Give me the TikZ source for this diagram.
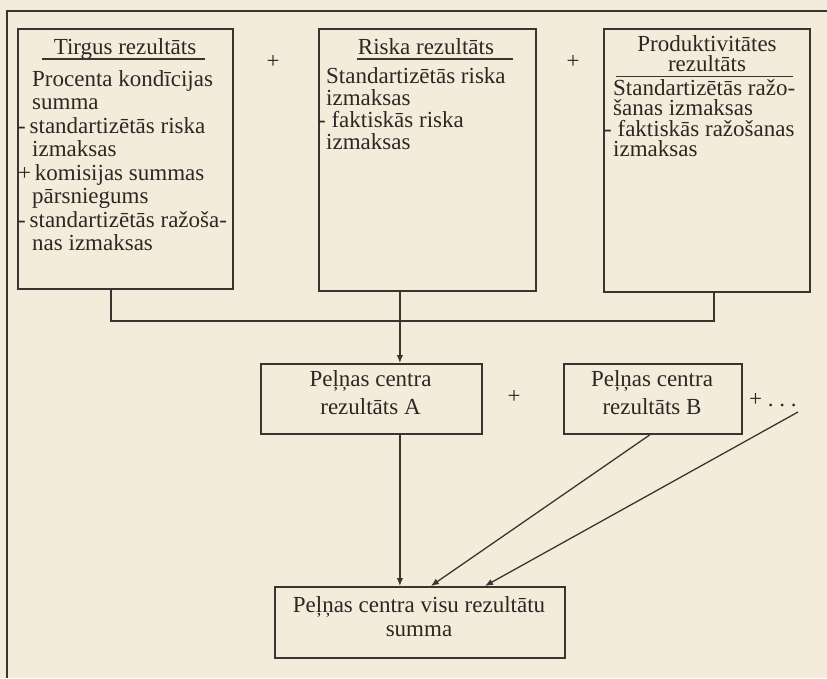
\documentclass[tikz,border=0pt]{standalone}
\usepackage{fontspec}
\setmainfont{Liberation Serif}
\usetikzlibrary{arrows.meta,calc}
\definecolor{paper}{HTML}{F4ECDB}
\definecolor{ink}{HTML}{3A3531}
\definecolor{print}{HTML}{2C2724}
% zero-width strut that fixes the top of a text block 17pt above its first baseline
\newcommand\firstln{\rule{0pt}{17pt}}

\begin{document}
\begin{tikzpicture}[x=1pt,y=-1pt,
  box/.style={draw=ink, line width=1.8pt, rectangle, inner sep=0pt, anchor=north west},
  txt/.style={text=print, inner sep=0pt, font=\fontsize{23pt}{23.5pt}\selectfont},
  body/.style={txt, align=left, anchor=north west},
  ctext/.style={txt, align=center, anchor=north},
  rule/.style={draw=ink, line width=1.3pt},
  frame/.style={draw=ink, line width=1.3pt},
  link/.style={draw=ink, line width=1.4pt},
  conn/.style={draw=ink, line width=1.3pt, -{Latex[length=8pt,width=6.5pt]}},
]
\useasboundingbox (0,0) rectangle (827,678);
\fill[paper] (0,0) rectangle (827,678);

% outer frame
\draw[frame] (827,11) -- (7,11) -- (7,678);

% three partial results
\node[box, minimum width=215pt, minimum height=260pt] (L) at (17,28) {};
\node[box, minimum width=217pt, minimum height=262pt] (M) at (318,28) {};
\node[box, minimum width=206pt, minimum height=263pt] (R) at (603,28) {};

% headings with their rules
\node[txt, anchor=base] (Lt) at (125,54) {Tirgus rezultāts};
\draw[rule] (42,59) -- (205,59);
\node[txt, anchor=base] (Mt) at (426,54) {Riska rezultāts};
\draw[rule] (357,59) -- (513,59);
\node[ctext, font=\fontsize{23pt}{20.5pt}\selectfont] (Rt) at (707,34) {\firstln Produktivitātes\\rezultāts};
\draw[rule] (616,76.5) -- (793,76.5);

% contents
\node[body, font=\fontsize{23pt}{23.5pt}\selectfont] (Lb) at (32,69)
  {\firstln Procenta kondīcijas\\
   summa\\
   \hspace*{-14pt}-\,standartizētās riska\\
   izmaksas\\
   \hspace*{-14pt}+\,komisijas summas\\
   pārsniegums\\
   \hspace*{-14pt}-\,standartizētās ražoša-\\
   nas izmaksas};
\node[body, font=\fontsize{23pt}{22pt}\selectfont] (Mb) at (326,66)
  {\firstln Standartizētās riska\\
   izmaksas\\
   \hspace*{-8pt}- faktiskās riska\\
   izmaksas};
\node[body, font=\fontsize{23pt}{20.5pt}\selectfont] (Rb) at (613,78)
  {\firstln Standartizētās ražo-\\
   šanas izmaksas\\
   \hspace*{-9pt}- faktiskās ražošanas\\
   izmaksas};

% plus signs between the partial results
\node[txt] (p1) at (273,62) {+};
\node[txt] (p2) at (573,62) {+};

% profit centre results
\node[box, minimum width=221pt, minimum height=70pt] (A) at (260,363) {};
\node[ctext, font=\fontsize{23pt}{28pt}\selectfont] (At) at (370.5,369) {\firstln Peļņas centra\\rezultāts A};
\node[txt] (p3) at (514,397) {+};
\node[box, minimum width=178pt, minimum height=70pt] (B) at (563,363) {};
\node[ctext, font=\fontsize{23pt}{28pt}\selectfont] (Bt) at (652,369) {\firstln Peļņas centra\\rezultāts B};
\node[txt, anchor=base west] (more) at (749,406) {+ .\ .\ .};
\coordinate (moreend) at (798,412);

% total
\node[box, minimum width=290pt, minimum height=71pt] (S) at (274,586) {};
\node[ctext, font=\fontsize{23pt}{24.5pt}\selectfont] (St) at (419,595) {\firstln Peļņas centra visu rezultātu\\summa};

% bracket joining the three partial results
\coordinate (bar) at (400,321);
\draw[link] ([xshift=-14.5pt]L.south) |- (bar) -| ([xshift=7pt]R.south);

% arrows
\draw[conn] ([xshift=-27.5pt]M.south) -- ([xshift=28.5pt]A.north);
\draw[conn] ([xshift=28.5pt]A.south) -- ([xshift=-20pt]S.north);
\draw[conn] ([xshift=-3pt]B.south) -- ([xshift=11pt]S.north);
\draw[conn] (moreend) -- ([xshift=65pt]S.north);
\end{tikzpicture}
\end{document}
